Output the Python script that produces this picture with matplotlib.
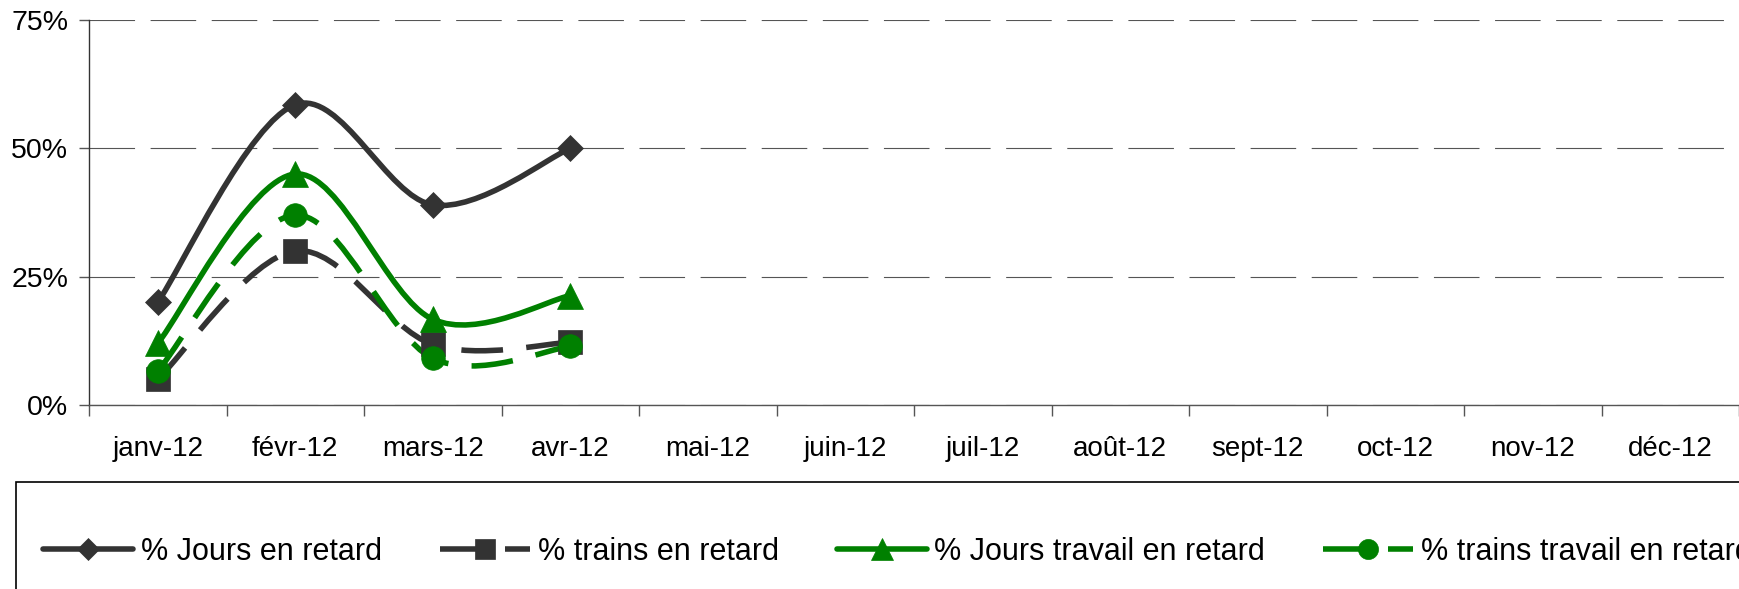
import matplotlib
matplotlib.use('Agg')
import matplotlib.pyplot as plt
from matplotlib.path import Path
from matplotlib.patches import PathPatch, Rectangle
from matplotlib.lines import Line2D
from matplotlib.ticker import FixedLocator, PercentFormatter

plt.rcParams['font.family'] = ['Liberation Sans', 'DejaVu Sans']

# Data
months = ['janv-12', 'févr-12', 'mars-12', 'avr-12', 'mai-12', 'juin-12',
          'juil-12', 'août-12', 'sept-12', 'oct-12', 'nov-12', 'déc-12']
jours_retard = [0.20, 0.585, 0.39, 0.50]
trains_retard = [0.05, 0.30, 0.118, 0.122]
jours_travail = [0.12, 0.45, 0.167, 0.213]
trains_travail = [0.066, 0.37, 0.091, 0.114]
labels = ['% Jours en retard', '% trains en retard',
          '% Jours travail en retard', '% trains travail en retard']

grey = '#333333'
green = '#008000'
dash = (0, (7.5, 4.2))
styles = [
    dict(color=grey, ls='-', marker='D', ms=13.5),
    dict(color=grey, ls=dash, marker='s', ms=17),
    dict(color=green, ls='-', marker='^', ms=19),
    dict(color=green, ls=dash, marker='o', ms=17),
]
series = [jours_retard, trains_retard, jours_travail, trains_travail]
lw = 4.0


# Excel-like smoothed curve: cubic bezier through the points (Catmull-Rom tangents)
def smooth_path(xs, ys):
    pts = list(zip(xs, ys))
    n = len(pts)
    verts = [pts[0]]
    codes = [Path.MOVETO]
    for i in range(n - 1):
        p0 = pts[max(i - 1, 0)]
        p1 = pts[i]
        p2 = pts[i + 1]
        p3 = pts[min(i + 2, n - 1)]
        c1 = (p1[0] + (p2[0] - p0[0]) / 6, p1[1] + (p2[1] - p0[1]) / 6)
        c2 = (p2[0] - (p3[0] - p1[0]) / 6, p2[1] - (p3[1] - p1[1]) / 6)
        verts += [c1, c2, p2]
        codes += [Path.CURVE4] * 3
    return Path(verts, codes)


fig = plt.figure(figsize=(17.39, 5.89), dpi=100)
ax = fig.add_axes([89 / 1739, 1 - 405 / 589, 1 - 89 / 1739, (405 - 20) / 589])

handles = []
for vals, st in zip(series, styles):
    xs = list(range(len(vals)))
    patch = PathPatch(smooth_path(xs, vals), facecolor='none', edgecolor=st['color'],
                      linewidth=lw, linestyle=st['ls'], capstyle='butt', zorder=3)
    ax.add_patch(patch)
    ax.plot(xs, vals, linestyle='none', marker=st['marker'], ms=st['ms'],
            color=st['color'], mec=st['color'], mew=0.5, zorder=4)
    handles.append(Line2D([], [], color=st['color'], lw=lw, ls=st['ls'],
                          marker=st['marker'], ms=st['ms'], mec=st['color'],
                          mew=0.5, solid_capstyle='round', dash_capstyle='butt'))

ax.set_xlim(-0.5, len(months) - 0.5)
ax.set_ylim(0, 0.75)

# category labels in the middle, tick marks between categories
ax.xaxis.set_major_locator(FixedLocator([i - 0.5 for i in range(len(months) + 1)]))
ax.xaxis.set_minor_locator(FixedLocator(list(range(len(months)))))
ax.set_xticklabels([], minor=False)
ax.set_xticklabels(months, minor=True)
ax.tick_params(axis='x', which='major', length=8, width=1, color='#555555', direction='out')
ax.tick_params(axis='x', which='minor', length=0, pad=22, labelsize=20)

ax.set_yticks([0, 0.25, 0.5, 0.75])
ax.yaxis.set_major_formatter(PercentFormatter(1.0, decimals=0))
ax.tick_params(axis='y', length=7, width=1, color='#555555', labelsize=20.5, pad=8)

ax.yaxis.grid(True, color='#555555', linewidth=0.8, linestyle=(0, (41, 14)))
ax.set_axisbelow(True)

for side in ['top', 'right']:
    ax.spines[side].set_visible(False)
ax.spines['left'].set_color('#333333')
ax.spines['bottom'].set_color('#555555')
ax.spines['left'].set_linewidth(1)
ax.spines['bottom'].set_linewidth(1)

# legend box runs past the right and bottom edges, as in the original
fig.add_artist(Rectangle((16 / 1739, -0.1), 1.1, (589 - 482) / 589 + 0.1,
                         transform=fig.transFigure, fill=False,
                         edgecolor='black', linewidth=1.2))
leg = fig.legend(handles, labels, loc='center left',
                 bbox_to_anchor=(43 / 1739, 1 - 552 / 589), ncol=4, fontsize=22,
                 frameon=False, borderpad=0, handlelength=2.95,
                 handletextpad=0.25, columnspacing=1.9, borderaxespad=0,
                 markerscale=0.85)

fig.savefig('out.png', dpi=100)
